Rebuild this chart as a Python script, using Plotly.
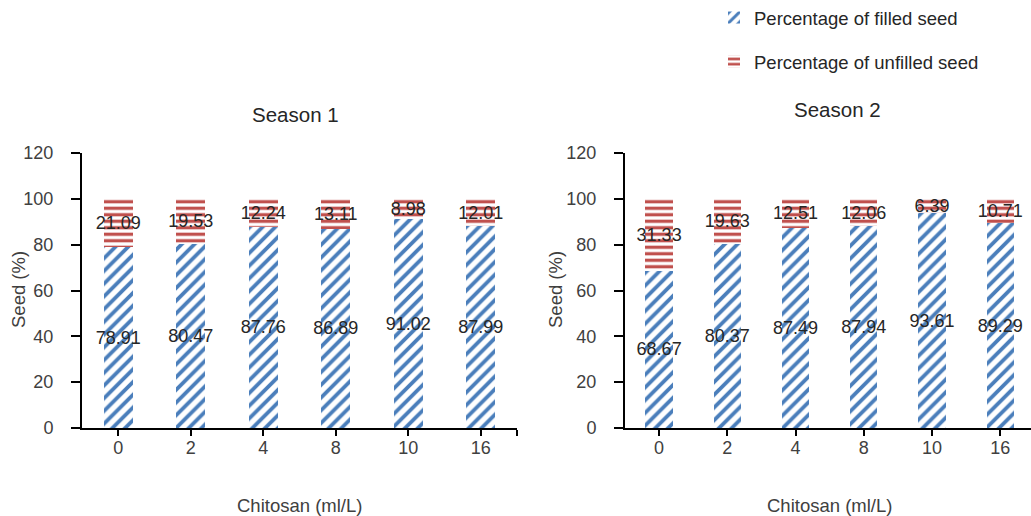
import plotly.graph_objects as go

# Chitosan concentrations (ml/L) used as categories
doses = ["0", "2", "4", "8", "10", "16"]

# Season 1 seed percentages
s1_filled = [78.91, 80.47, 87.76, 86.89, 91.02, 87.99]
s1_unfilled = [21.09, 19.53, 12.24, 13.11, 8.98, 12.01]

# Season 2 seed percentages
s2_filled = [68.67, 80.37, 87.49, 87.94, 93.61, 89.29]
s2_unfilled = [31.33, 19.63, 12.51, 12.06, 6.39, 10.71]

y_ticks = [0, 20, 40, 60, 80, 100, 120]

BLUE = "#4a7ebb"
RED = "#c0504d"
FONT = "Liberation Sans, Arial, sans-serif"
W, H = 1031, 516

fig = go.Figure()

xpos = list(range(len(doses)))


def add_season(filled, unfilled, xa, ya, show_legend):
    fig.add_trace(go.Bar(
        x=xpos, y=filled, xaxis=xa, yaxis=ya,
        name="Percentage of filled seed", legendgroup="filled",
        showlegend=show_legend,
        marker=dict(color=BLUE, line=dict(width=0),
                    pattern=dict(shape="/", fgcolor=BLUE, bgcolor="white",
                                 size=9, solidity=0.42, fillmode="replace")),
        text=[f"{v:.2f}" for v in filled], textposition="inside",
        insidetextanchor="middle", constraintext="none", textangle=0,
        insidetextfont=dict(family=FONT, size=18, color="#262626"),
        cliponaxis=False,
    ))
    fig.add_trace(go.Bar(
        x=xpos, y=unfilled, xaxis=xa, yaxis=ya,
        name="Percentage of unfilled seed", legendgroup="unfilled",
        showlegend=show_legend,
        marker=dict(color=RED, line=dict(width=0),
                    pattern=dict(shape="-", fgcolor=RED, bgcolor="white",
                                 size=6.5, solidity=0.5, fillmode="replace")),
        text=[f"{v:.2f}" for v in unfilled], textposition="inside",
        insidetextanchor="middle", constraintext="none", textangle=0,
        insidetextfont=dict(family=FONT, size=18, color="#262626"),
        cliponaxis=False,
    ))


add_season(s1_filled, s1_unfilled, "x", "y", True)
add_season(s2_filled, s2_unfilled, "x2", "y2", False)

xaxis_common = dict(
    tickmode="array",
    showline=True, linecolor="black", linewidth=2,
    ticks="outside", ticklen=6, tickwidth=2, tickcolor="black",
    tickfont=dict(family=FONT, size=18, color="#404040"),
    ticklabelstandoff=-4, automargin=False,
    showgrid=False, zeroline=False, fixedrange=True,
)
yaxis_common = dict(
    range=[0, 120], tickvals=y_ticks,
    showline=True, linecolor="black", linewidth=2,
    ticks="outside", ticklen=9, tickwidth=2, tickcolor="black",
    tickfont=dict(family=FONT, size=18, color="#404040"),
    ticklabelstandoff=14, automargin=False,
    showgrid=False, zeroline=False, fixedrange=True,
)

y_dom = [1 - 428 / H, 1 - 153 / H]

fig.update_layout(
    width=W, height=H,
    margin=dict(l=0, r=0, t=0, b=0, autoexpand=False),
    paper_bgcolor="white", plot_bgcolor="white",
    barmode="stack", bargap=0.6,
    font=dict(family=FONT, color="#262626"),
    xaxis=dict(xaxis_common, domain=[82 / W, 517 / W], range=[-0.5, 5.5],
               tickvals=xpos + [5.5], ticktext=doses + [""], anchor="y"),
    yaxis=dict(yaxis_common, domain=y_dom, anchor="x"),
    xaxis2=dict(xaxis_common, domain=[625 / W, 1.0], range=[-0.5, 5.45],
                tickvals=xpos, ticktext=doses, anchor="y2"),
    yaxis2=dict(yaxis_common, domain=y_dom, anchor="x2"),
    legend=dict(
        x=714 / W, y=1 + 1 / H, xanchor="left", yanchor="top",
        font=dict(family=FONT, size=18.5, color="#262626"),
        traceorder="grouped", tracegroupgap=17,
        bgcolor="rgba(0,0,0,0)",
    ),
    showlegend=True,
)


def label(text, x, y, size, color, angle=0):
    return dict(text=text, x=x / W, y=1 - y / H, xref="paper", yref="paper",
                xanchor="center", yanchor="middle", textangle=angle,
                showarrow=False, font=dict(family=FONT, size=size, color=color))


fig.update_layout(annotations=[
    label("Season 1", 295, 115, 20.5, "#262626"),
    label("Season 2", 837, 110, 20.5, "#262626"),
    label("Chitosan (ml/L)", 299, 505, 18.5, "#404040"),
    label("Chitosan (ml/L)", 829, 505, 18.5, "#404040"),
    label("Seed (%)", 18, 290, 18.5, "#404040", -90),
    label("Seed (%)", 555, 290, 18.5, "#404040", -90),
])

fig.write_html("out.html")
